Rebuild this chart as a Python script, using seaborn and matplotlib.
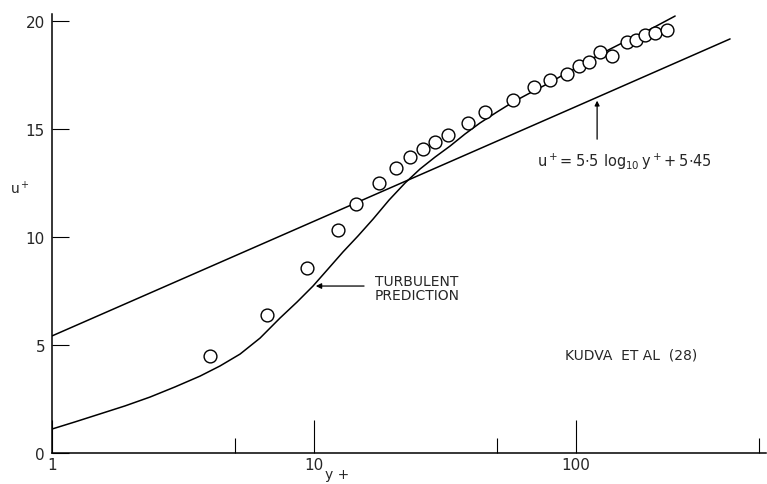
import numpy as np
import pandas as pd
import matplotlib
matplotlib.use("Agg")
import matplotlib.pyplot as plt
import seaborn as sns

# turbulent prediction curve
curve_x = [1.0, 1.224, 1.525, 1.899, 2.366, 2.948, 3.672, 4.377, 5.220, 6.222,
           7.418, 8.613, 9.91, 11.31, 12.90, 14.72, 16.80, 19.33, 22.25, 25.39,
           28.96, 33.04, 37.70, 43.0, 49.95, 57.5, 66.74, 77.5, 89.2, 103.6,
           118.2, 134.9, 157.9, 183.4, 209.3, 238.8]
curve_y = [1.11, 1.44, 1.81, 2.18, 2.59, 3.06, 3.56, 4.03, 4.58, 5.32,
           6.25, 6.99, 7.73, 8.52, 9.31, 10.05, 10.83, 11.71, 12.50, 13.15,
           13.70, 14.21, 14.77, 15.28, 15.79, 16.25, 16.67, 17.08, 17.50, 17.92,
           18.33, 18.70, 19.12, 19.49, 19.86, 20.23]

# log law line u+ = 5.5 log10 y+ + 5.45 (as drawn)
law_x = [1.0, 10.0, 100.0, 387.0]
law_y = [5.42, 10.73, 16.04, 19.17]

# Kudva et al (28) measurements
kudva_x = [4.01, 6.62, 9.40, 12.35, 14.47, 17.71, 20.56, 23.25, 26.06, 28.96,
           32.47, 38.71, 44.96, 57.47, 69.14, 79.6, 92.4, 102.7, 112.1, 123.5,
           137.2, 156.5, 169.4, 183.4, 200.2, 222.5]
kudva_y = [4.49, 6.39, 8.56, 10.32, 11.53, 12.50, 13.19, 13.70, 14.07, 14.40,
           14.72, 15.28, 15.79, 16.34, 16.94, 17.27, 17.55, 17.92, 18.10, 18.56,
           18.38, 19.03, 19.12, 19.35, 19.44, 19.58]

y_ticks = [0, 5, 10, 15, 20]
x_ticks = [1, 10, 100]
x_minor = [5, 50, 500]

sns.set_theme(style="ticks")
plt.rcParams['font.family'] = ['DejaVu Sans']

fig = plt.figure(figsize=(7.67, 4.85), dpi=100)
ax = fig.add_axes([0.0678, 0.0639, 0.931, 0.905])

df_curve = pd.DataFrame({"y+": curve_x, "u+": curve_y})
df_law = pd.DataFrame({"y+": law_x, "u+": law_y})
df_pts = pd.DataFrame({"y+": kudva_x, "u+": kudva_y})

sns.lineplot(data=df_curve, x="y+", y="u+", ax=ax, color="black", lw=1.1)
sns.lineplot(data=df_law, x="y+", y="u+", ax=ax, color="black", lw=1.1)
sns.scatterplot(data=df_pts, x="y+", y="u+", ax=ax, marker="o", s=85,
                facecolor="white", edgecolor="black", linewidth=1.0, zorder=3)

ax.set_xscale("log")
ax.set_xlim(1, 531)
ax.set_ylim(0, 20.32)
sns.despine(ax=ax)
for s in ["left", "bottom"]:
    ax.spines[s].set_linewidth(1.1)
    ax.spines[s].set_color("black")

ax.set_xticks(x_ticks)
ax.set_xticklabels([str(t) for t in x_ticks])
ax.set_xticks(x_minor, minor=True)
ax.set_xticklabels([], minor=True)
ax.set_yticks(y_ticks)
ax.set_yticklabels([str(t) for t in y_ticks])
ax.tick_params(axis="x", which="major", direction="in", length=24, width=0.8,
               labelsize=11, pad=3, color="black")
ax.tick_params(axis="x", which="minor", direction="in", length=11, width=0.8,
               color="black")
ax.tick_params(axis="y", which="major", direction="in", length=12, width=0.8,
               labelsize=11, pad=5, color="black")

ax.set_xlabel("")
ax.set_ylabel("")
ax.text(0.399, -0.033, "y +", transform=ax.transAxes, fontsize=10,
        ha="center", va="top")
fig.text(0.013, 0.6, r"$\mathregular{u^+}$", fontsize=10)

ax.annotate("", xy=(9.91, 7.73), xytext=(15.9, 7.73),
            arrowprops=dict(arrowstyle="-|>", color="black", lw=0.9,
                            mutation_scale=8))
ax.text(17.1, 7.64, "TURBULENT\nPREDICTION", fontsize=10, va="center",
        ha="left", linespacing=0.95)

ax.annotate("", xy=(120.3, 16.44), xytext=(120.3, 14.4),
            arrowprops=dict(arrowstyle="-|>", color="black", lw=0.9,
                            mutation_scale=7))
ax.text(71.0, 13.29, r"$\mathregular{u^+\!= 5{\cdot}5\ log_{10}\,y^+\!+ 5{\cdot}45}$",
        fontsize=10.5, va="baseline", ha="left")

ax.text(90.8, 4.58, "KUDVA  ET AL  (28)", fontsize=10, va="center", ha="left")

fig.savefig("out.png", dpi=100)
